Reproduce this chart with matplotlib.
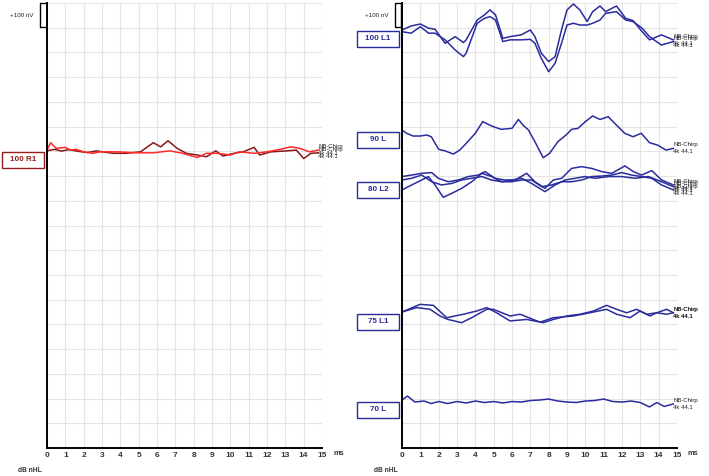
import matplotlib
matplotlib.use("Agg")
import matplotlib.pyplot as plt
from matplotlib.patches import Rectangle
import matplotlib.transforms as mtransforms

plt.rcParams["font.family"] = ["Liberation Sans", "DejaVu Sans"]

ticks_ms = list(range(16))

# left ear, 100 dB nHL (two runs), offsets in nV from baseline
r1_base = 1205
r1_red_t = [0, 0.2, 0.5, 1.0, 1.3, 1.6, 2.0, 2.5, 2.9, 3.8, 4.9, 5.8, 6.7, 7.4, 8.2, 8.7, 9.3, 10.0, 10.5, 11.3, 12.0, 12.7, 13.3, 13.8, 14.3, 14.8]
r1_red_v = [0, 30, 7, 11, 0, 3, -7, -13, -7, -7, -11, -11, -3, -13, -30, -13, -13, -20, -7, -13, -7, 3, 13, 7, -7, 0]
r1_dark_t = [0, 0.4, 0.8, 1.2, 1.7, 2.2, 2.7, 3.1, 3.6, 4.3, 5.1, 5.8, 6.2, 6.6, 7.1, 7.6, 8.2, 8.7, 9.2, 9.6, 10.2, 10.7, 11.3, 11.6, 12.2, 13.1, 13.6, 14.0, 14.4, 14.8]
r1_dark_v = [-3, 3, -4, 2, -5, -10, -3, -8, -13, -13, -7, 30, 13, 38, 7, -13, -20, -27, -3, -24, -13, -7, 11, -20, -7, -3, 0, -34, -13, -11]

# right panel groups
l100_base = 1691
l100_t = [0, 0.5, 1.0, 1.45, 1.8, 2.35, 2.9, 3.35, 3.5, 4.1, 4.5, 4.8, 5.1, 5.5, 5.9, 6.5, 7.0, 7.25, 7.6, 8.0, 8.35, 8.7, 9.0, 9.35, 9.7, 10.1, 10.4, 10.8, 11.1, 11.7, 12.2, 12.6, 13.1, 13.5, 14.15, 14.8]
l100_a = [0, 16, 24, 7, 3, -54, -27, -51, -40, 40, 61, 81, 61, -34, -27, -20, 0, -27, -94, -128, -108, 0, 81, 105, 81, 34, 74, 97, 74, 97, 47, 38, -7, -40, -20, -40]
l100_b = [-7, -13, 13, -13, -13, -40, -81, -108, -94, 27, 47, 54, 40, -47, -40, -40, -38, -54, -115, -169, -135, -54, 20, 27, 20, 20, 27, 40, 67, 74, 40, 34, 7, -27, -61, -47]

l90_base = 1286
l90_t = [0, 0.25, 0.6, 1.0, 1.35, 1.6, 2.0, 2.35, 2.8, 3.15, 3.5, 4.0, 4.4, 4.9, 5.4, 6.0, 6.35, 6.6, 6.9, 7.25, 7.7, 8.05, 8.5, 8.95, 9.25, 9.6, 10.0, 10.4, 10.8, 11.25, 11.7, 12.15, 12.6, 13.05, 13.5, 13.95, 14.4, 14.8]
l90_v = [0, -13, -24, -24, -20, -27, -78, -84, -97, -81, -54, -13, 34, 16, 3, 7, 43, 20, 0, -47, -112, -94, -47, -20, 3, 7, 34, 57, 43, 54, 20, -13, -27, -13, -51, -61, -81, -74]

l80_base = 1084
l80_p_t = [0, 0.53, 1.07, 1.62, 1.98, 2.53, 3.07, 3.62, 4.16, 4.53, 5.07, 5.62, 6.16, 6.8, 7.25, 7.8, 8.25, 8.71, 9.25, 9.8, 10.35, 10.89, 11.44, 12.16, 12.62, 13.07, 13.62, 14.16, 14.8]
l80_p_v = [14, 20, 27, 30, 7, -7, 0, 14, 20, 34, 7, 0, 0, 27, -7, -34, 0, 7, 47, 54, 47, 34, 27, 57, 34, 20, 38, 0, -20]
l80_q_t = [0, 0.53, 1.07, 1.44, 1.8, 2.25, 2.71, 3.25, 3.8, 4.35, 4.89, 5.44, 5.98, 6.53, 7.07, 7.8, 8.35, 8.89, 9.44, 9.98, 10.53, 11.25, 11.98, 12.71, 13.44, 14.16, 14.8]
l80_q_v = [-40, -20, 0, 14, -20, -70, -54, -34, -7, 27, 14, -7, 0, 7, -14, -47, -20, 0, 7, 14, 7, 14, 14, 7, 14, -7, -27]
l80_r_t = [0, 0.53, 1.07, 1.62, 2.16, 2.71, 3.25, 3.8, 4.35, 4.89, 5.44, 5.98, 6.53, 7.07, 7.62, 8.16, 8.71, 9.25, 9.8, 10.35, 10.89, 11.44, 11.98, 12.53, 13.07, 13.62, 14.16, 14.8]
l80_r_v = [0, 7, 20, -7, -20, -14, 0, 7, 14, 0, -7, -7, 0, 0, -27, -20, -7, -7, 0, 14, 16, 20, 30, 20, 14, 7, -20, -40]

l75_base = 550
l75_s_t = [0, 0.8, 1.53, 2.07, 2.5, 3.25, 3.8, 4.62, 4.98, 5.89, 6.44, 7.53, 8.25, 9.35, 10.25, 11.16, 11.71, 12.44, 12.98, 13.53, 13.89, 14.44, 14.8]
l75_s_v = [0, 18, 11, -16, -30, -43, -23, 11, 11, -16, -9, -41, -23, -16, -3, 11, -9, -23, 4, -16, -3, -9, -3]
l75_u_t = [0, 0.98, 1.71, 2.44, 2.89, 3.35, 4.07, 4.62, 5.16, 5.89, 6.8, 7.71, 8.25, 8.98, 9.71, 10.44, 11.16, 11.71, 12.25, 12.8, 13.35, 13.89, 14.44, 14.8]
l75_u_v = [0, 31, 27, -23, -16, -9, 4, 18, -3, -36, -30, -43, -30, -16, -9, 4, 27, 11, -3, 11, -9, -3, 11, -3]

l70_base = 194
l70_t = [0, 0.3, 0.7, 1.2, 1.6, 2.0, 2.5, 3.0, 3.5, 4.0, 4.5, 5.0, 5.5, 6.0, 6.5, 7.0, 7.5, 8.0, 8.5, 9.0, 9.5, 10.0, 10.5, 11.0, 11.5, 12.0, 12.5, 13.0, 13.5, 13.9, 14.3, 14.8]
l70_v = [0, 16, -8, -4, -14, -6, -14, -6, -12, -4, -10, -6, -12, -6, -8, -2, 0, 4, -4, -8, -10, -4, -2, 4, -6, -8, -4, -10, -28, -10, -26, -16]

BLUE = "#2a2c9c"
RED = "#ff2a2a"
DARKRED = "#861818"


def setup_panel(ax):
    ax.set_xlim(0, 15)
    ax.set_ylim(0, 1800)
    ax.set_xticks(ticks_ms)
    ax.set_xticklabels([str(t) for t in ticks_ms])
    ax.set_yticks(range(0, 1801, 100))
    ax.set_yticklabels([])
    ax.grid(True, color="#e4e4e4", lw=0.8)
    ax.set_axisbelow(True)
    ax.tick_params(length=0, labelsize=6, labelcolor="#333333", pad=3)
    for lab in ax.get_xticklabels():
        lab.set_fontweight("bold")
    for s in ("top", "right"):
        ax.spines[s].set_visible(False)
    for s in ("left", "bottom"):
        ax.spines[s].set_linewidth(1.4)
        ax.spines[s].set_color("black")
    ax.text(15.6, -10, "ms", fontsize=5.3, color="#333333", ha="left", va="top",
            fontweight="bold", clip_on=False)


def draw_trace(ax, t, v, base, color):
    y = [base + val for val in v]
    ax.plot(t, y, color=color, lw=1.1, clip_on=False)
    ax.text(t[-1], y[-1] + 4, "NB-Chirp", fontsize=4.3, ha="left", va="bottom", color="#222222")
    ax.text(t[-1], y[-1] - 4, "4k 44.1", fontsize=4.3, ha="left", va="top", color="#222222")


def draw_label(ax, base, text, color):
    trans = mtransforms.blended_transform_factory(ax.transAxes, ax.transData)
    ax.add_patch(Rectangle((-0.162, base - 72), 0.15, 63, transform=trans, fill=True,
                           facecolor="white", edgecolor=color, lw=1.0, clip_on=False))
    ax.text(-0.087, base - 40, text, transform=trans, fontsize=5.8, color=color,
            ha="center", va="center", fontweight="bold")


fig = plt.figure(figsize=(7.09, 4.76), dpi=100)
ax_l = fig.add_axes([47 / 709, 28 / 476, 275 / 709, 445 / 476])
ax_r = fig.add_axes([402 / 709, 28 / 476, 275 / 709, 445 / 476])

for ax in (ax_l, ax_r):
    setup_panel(ax)
    ax.text(-0.092, 1750, "+100 nV", transform=mtransforms.blended_transform_factory(ax.transAxes, ax.transData),
            fontsize=4.5, ha="center", va="center", color="#222222")

# scale bars
tl = mtransforms.blended_transform_factory(ax_l.transAxes, ax_l.transData)
ax_l.plot([-0.007, -0.026, -0.026, -0.007], [1800, 1800, 1702, 1702], color="black", lw=1.0,
          transform=tl, clip_on=False)
tr = mtransforms.blended_transform_factory(ax_r.transAxes, ax_r.transData)
ax_r.add_patch(Rectangle((-0.025, 1703), 0.02, 97, transform=tr, fill=False, edgecolor="black",
                         lw=1.0, clip_on=False))

# left panel
draw_trace(ax_l, r1_dark_t, r1_dark_v, r1_base, DARKRED)
draw_trace(ax_l, r1_red_t, r1_red_v, r1_base, RED)
draw_label(ax_l, r1_base, "100 R1", "#9a1c1c")

# right panel
draw_trace(ax_r, l100_t, l100_a, l100_base, BLUE)
draw_trace(ax_r, l100_t, l100_b, l100_base, BLUE)
draw_label(ax_r, l100_base + 4, "100 L1", BLUE)

draw_trace(ax_r, l90_t, l90_v, l90_base, BLUE)
draw_label(ax_r, l90_base, "90 L", BLUE)

draw_trace(ax_r, l80_p_t, l80_p_v, l80_base, BLUE)
draw_trace(ax_r, l80_q_t, l80_q_v, l80_base, BLUE)
draw_trace(ax_r, l80_r_t, l80_r_v, l80_base, BLUE)
draw_label(ax_r, l80_base, "80 L2", BLUE)

draw_trace(ax_r, l75_s_t, l75_s_v, l75_base, BLUE)
draw_trace(ax_r, l75_u_t, l75_u_v, l75_base, BLUE)
draw_label(ax_r, l75_base, "75 L1", BLUE)

draw_trace(ax_r, l70_t, l70_v, l70_base, BLUE)
draw_label(ax_r, l70_base, "70 L", BLUE)

fig.text(30 / 709, 1 - 471 / 476, "dB nHL", fontsize=4.8, ha="center", va="center",
         color="#333333", fontweight="bold")
fig.text(386 / 709, 1 - 471 / 476, "dB nHL", fontsize=4.8, ha="center", va="center",
         color="#333333", fontweight="bold")

fig.savefig("out.png", dpi=100)
